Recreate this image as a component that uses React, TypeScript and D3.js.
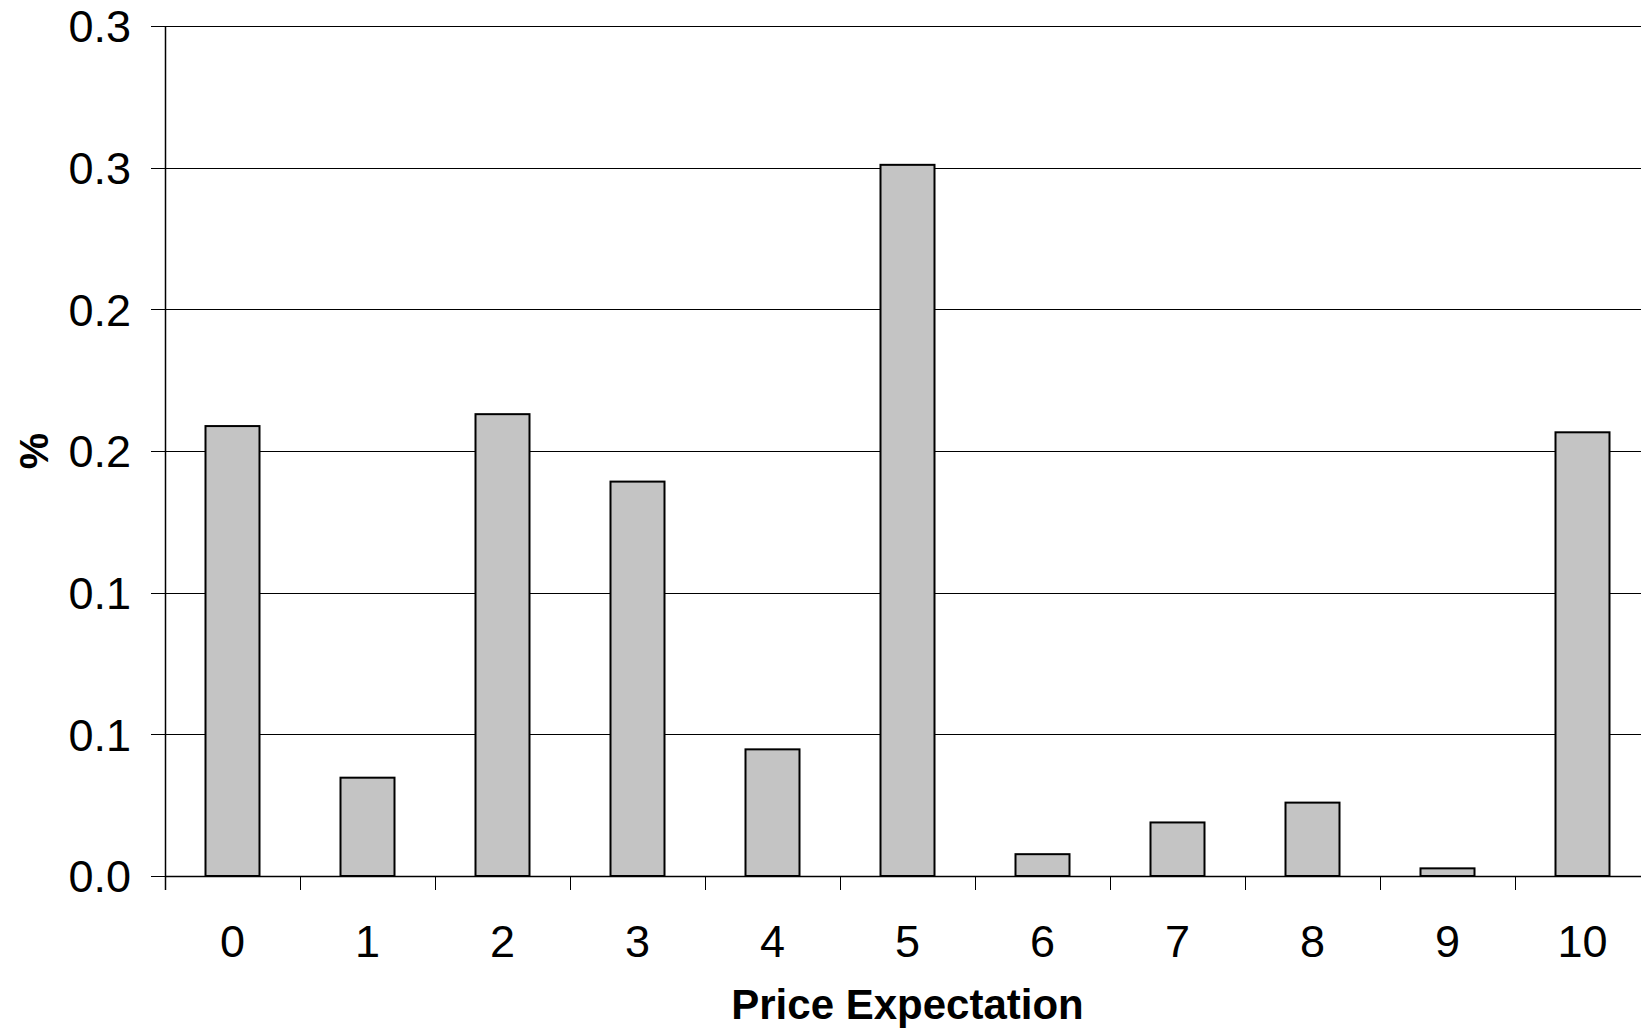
import React from "react";
import * as d3 from "d3";

// Share of responses per price expectation
const categories = ["0", "1", "2", "3", "4", "5", "6", "7", "8", "9", "10"];
const shares = [0.1588, 0.0347, 0.163, 0.1392, 0.0447, 0.251, 0.0077, 0.0189, 0.0259, 0.0027, 0.1566];
const yTickValues = [0, 0.05, 0.1, 0.15, 0.2, 0.25, 0.3];
const yTickLabels = ["0.0", "0.1", "0.1", "0.2", "0.2", "0.3", "0.3"];

const W = 1641;
const H = 1032;
const left = 165;
const right = 1650;
const top = 26;
const bottom = 876;
const font = "'Liberation Sans', Arial, sans-serif";

export default function App() {
  const x = d3
    .scaleBand<string>()
    .domain(categories)
    .range([left, right])
    .paddingInner(0.6)
    .paddingOuter(0.3);
  const step = x.step();
  const y = d3.scaleLinear().domain([0, 0.3]).range([bottom, top]);

  // Boundaries between categories carry the x-axis ticks
  const boundaries = d3.range(categories.length + 1).map((i) => left + i * step);

  return (
    <svg
      width={W}
      height={H}
      style={{ position: "absolute", left: 0, top: 0, background: "#fff" }}
      fontFamily={font}
    >
      <rect x={0} y={0} width={W} height={H} fill="#fff" />
      {/* horizontal gridlines with their tick marks */}
      {yTickValues.map((v, i) => (
        <g key={"g" + i}>
          <line
            x1={left - 14}
            x2={W}
            y1={Math.round(y(v)) + 0.5}
            y2={Math.round(y(v)) + 0.5}
            stroke="#000"
            strokeWidth={1}
          />
          <text
            x={131}
            y={y(v)}
            dy="0.36em"
            textAnchor="end"
            fontSize={45}
            fill="#000"
          >
            {yTickLabels[i]}
          </text>
        </g>
      ))}
      {/* bars */}
      {shares.map((v, i) => (
        <rect
          key={"b" + i}
          x={x(categories[i])}
          y={y(v)}
          width={x.bandwidth()}
          height={bottom - y(v)}
          fill="#c4c4c4"
          stroke="#000"
          strokeWidth={2}
        />
      ))}
      {/* axes */}
      <line x1={left + 0.5} x2={left + 0.5} y1={top} y2={bottom + 14} stroke="#000" strokeWidth={1.5} />
      <line x1={left} x2={W} y1={bottom + 0.5} y2={bottom + 0.5} stroke="#000" strokeWidth={1.5} />
      {boundaries.map((bx, i) => (
        <line
          key={"t" + i}
          x1={Math.round(bx) + 0.5}
          x2={Math.round(bx) + 0.5}
          y1={bottom}
          y2={bottom + 14}
          stroke="#000"
          strokeWidth={1}
        />
      ))}
      {categories.map((c) => (
        <text
          key={"c" + c}
          x={(x(c) as number) + x.bandwidth() / 2}
          y={957}
          textAnchor="middle"
          fontSize={45}
          fill="#000"
        >
          {c}
        </text>
      ))}
      <text
        x={(left + right) / 2}
        y={1019}
        textAnchor="middle"
        fontSize={42}
        fontWeight="bold"
        fill="#000"
      >
        Price Expectation
      </text>
      <text
        transform={`translate(48, ${(top + bottom) / 2}) rotate(-90)`}
        textAnchor="middle"
        fontSize={41}
        fontWeight="bold"
        fill="#000"
      >
        %
      </text>
    </svg>
  );
}
